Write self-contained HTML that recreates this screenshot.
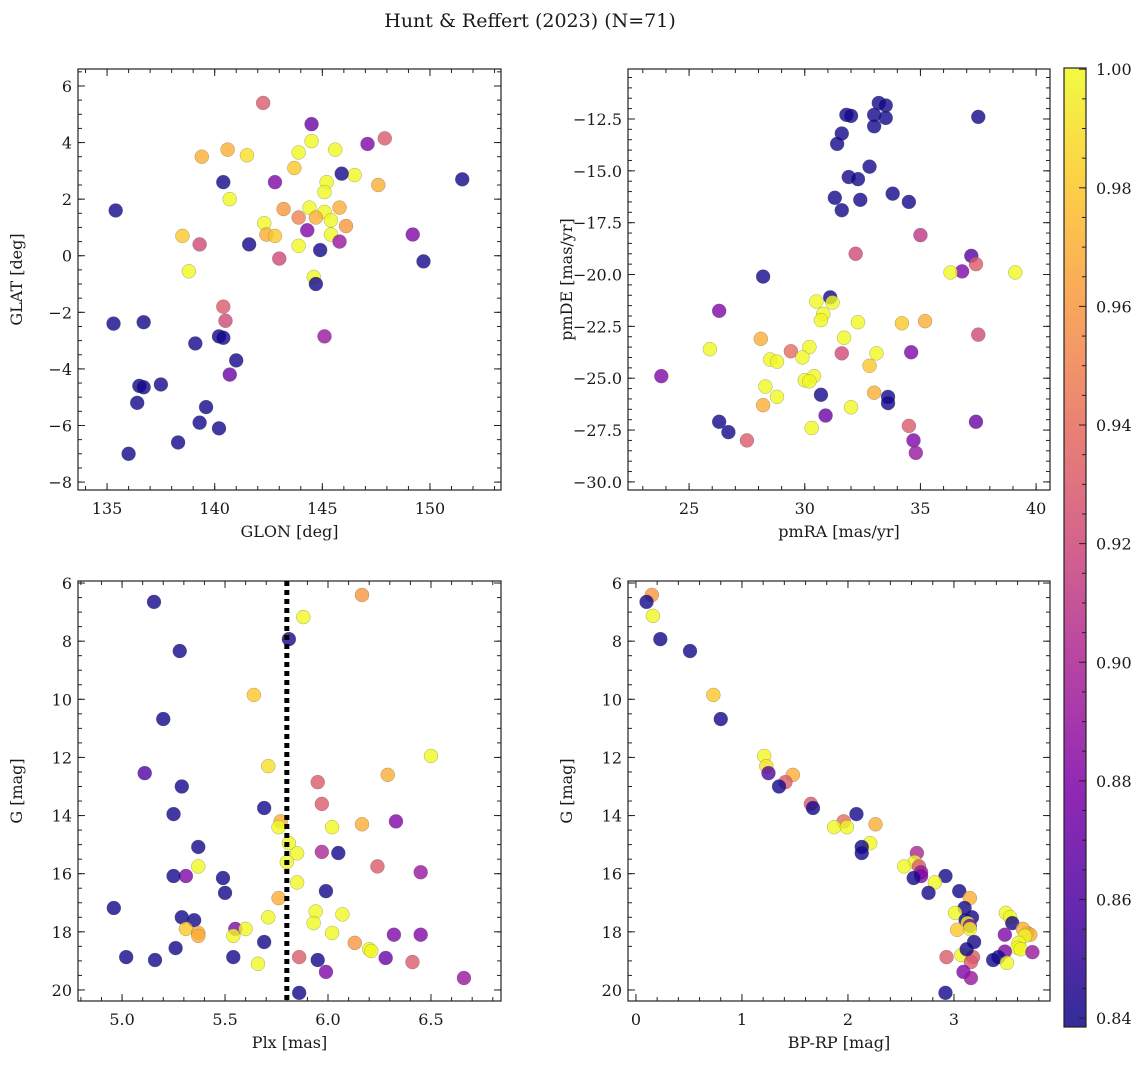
<!DOCTYPE html>
<html><head><meta charset="utf-8"><style>
html,body{margin:0;padding:0;background:#fff;}
svg text{font-family:"DejaVu Serif","Liberation Serif",serif;fill:#1a1a1a;}
</style></head><body>
<svg id="fig" width="1148" height="1068" viewBox="0 0 1148 1068" xmlns="http://www.w3.org/2000/svg">
<defs>
<linearGradient id="plasma" x1="0" y1="1" x2="0" y2="0">
<stop offset="0" stop-color="#0d0887"/><stop offset="0.125" stop-color="#4c02a1"/><stop offset="0.25" stop-color="#7e03a8"/><stop offset="0.375" stop-color="#a92395"/><stop offset="0.5" stop-color="#cc4778"/><stop offset="0.625" stop-color="#e56b5d"/><stop offset="0.75" stop-color="#f89540"/><stop offset="0.875" stop-color="#fdc527"/><stop offset="1" stop-color="#f0f921"/>
</linearGradient>
</defs>
<text x="530" y="27" font-size="19" text-anchor="middle">Hunt &amp; Reffert (2023) (N=71)</text>
</svg>
<script>
// Panel 1: GLON vs GLAT
const p1x=[142.25,144.5,147.9,147.1,144.5,139.4,140.6,141.5,143.9,145.6,146.5,145.9,143.7,142.8,140.4,145.2,145.1,147.6,151.5,140.7,135.4,143.2,144.4,145.8,145.1,143.9,144.7,145.4,142.3,146.1,142.4,142.8,145.4,144.3,138.5,141.6,143.9,139.3,145.8,144.9,149.2,143.0,149.7,138.8,144.6,144.7,140.4,140.5,135.3,136.7,145.1,140.2,140.4,139.1,141.0,140.7,136.5,137.5,136.7,136.4,139.6,139.3,140.2,138.3,136.0];
const p1y=[5.4,4.65,4.15,3.95,4.05,3.5,3.75,3.55,3.65,3.75,2.85,2.9,3.1,2.6,2.6,2.6,2.25,2.5,2.7,2.0,1.6,1.65,1.7,1.7,1.55,1.35,1.35,1.25,1.15,1.05,0.75,0.7,0.75,0.9,0.7,0.4,0.35,0.4,0.5,0.2,0.75,-0.1,-0.2,-0.55,-0.75,-1.0,-1.8,-2.3,-2.4,-2.35,-2.85,-2.85,-2.9,-3.1,-3.7,-4.2,-4.6,-4.55,-4.65,-5.2,-5.35,-5.9,-6.1,-6.6,-7.0];
const p1c=[0.93,0.87,0.93,0.88,1.0,0.97,0.97,0.99,1.0,1.0,1.0,0.84,0.98,0.88,0.84,1.0,1.0,0.97,0.84,1.0,0.84,0.96,1.0,0.97,1.0,0.95,0.97,1.0,1.0,0.96,0.97,0.98,1.0,0.88,0.98,0.84,1.0,0.92,0.89,0.84,0.88,0.92,0.84,1.0,1.0,0.84,0.93,0.92,0.84,0.84,0.89,0.84,0.84,0.84,0.84,0.87,0.84,0.84,0.84,0.84,0.84,0.84,0.84,0.84,0.84];
// Panel 2: pmRA vs pmDE
const p2x=[33.2,33.5,31.8,33.0,32.0,37.5,33.5,33.0,31.6,31.4,32.8,31.9,32.3,31.3,32.4,31.6,33.8,34.5,31.1,35.0,32.2,37.2,37.4,36.8,36.3,39.1,28.2,26.3,30.5,31.2,30.8,30.7,32.3,35.2,34.2,31.7,28.1,37.5,30.2,25.9,29.4,33.1,31.6,34.6,28.5,28.8,29.9,32.8,30.4,30.0,30.2,23.8,28.3,33.0,28.8,30.7,33.6,33.6,28.2,32.0,30.9,26.3,37.4,34.5,30.3,26.7,27.5,34.7,34.8];
const p2y=[-11.73,-11.85,-12.3,-12.3,-12.35,-12.4,-12.45,-12.85,-13.2,-13.7,-14.8,-15.3,-15.4,-16.3,-16.4,-16.9,-16.1,-16.5,-21.1,-18.1,-19.0,-19.1,-19.5,-19.85,-19.9,-19.9,-20.1,-21.75,-21.3,-21.35,-21.9,-22.2,-22.3,-22.25,-22.35,-23.05,-23.1,-22.9,-23.5,-23.6,-23.7,-23.8,-23.8,-23.75,-24.1,-24.2,-24.0,-24.4,-24.9,-25.1,-25.15,-24.9,-25.4,-25.7,-25.9,-25.8,-25.9,-26.2,-26.3,-26.4,-26.8,-27.1,-27.1,-27.3,-27.4,-27.6,-28.0,-28.0,-28.6];
const p2c=[0.84,0.84,0.84,0.84,0.84,0.84,0.84,0.84,0.84,0.84,0.84,0.84,0.84,0.84,0.84,0.84,0.84,0.84,0.84,0.91,0.92,0.86,0.93,0.88,1.0,1.0,0.84,0.88,1.0,1.0,1.0,1.0,1.0,0.97,0.98,1.0,0.97,0.92,1.0,1.0,0.94,1.0,0.92,0.88,1.0,1.0,1.0,0.98,1.0,1.0,1.0,0.88,1.0,0.97,1.0,0.84,0.84,0.84,0.97,1.0,0.87,0.84,0.87,0.93,1.0,0.84,0.93,0.88,0.89];
// Panel 3: Plx vs G
const p3x=[5.155,6.165,5.88,5.81,5.28,5.64,5.20,6.5,5.71,5.11,6.29,5.95,5.29,5.97,5.69,5.25,6.33,5.77,6.165,6.02,5.76,5.81,5.37,5.85,5.97,6.05,5.80,5.37,6.24,5.31,5.25,6.45,5.85,5.49,5.50,5.99,5.76,4.96,5.94,6.07,5.71,5.29,5.35,5.93,5.55,5.60,5.31,5.37,5.37,6.02,5.54,6.32,6.45,6.13,5.69,6.20,6.21,5.26,5.02,5.16,5.54,5.86,5.95,6.28,6.41,5.66,5.99,6.66,5.86];
const p3y=[6.65,6.41,7.17,7.93,8.34,9.85,10.68,11.95,12.3,12.54,12.6,12.85,13.0,13.6,13.74,13.95,14.2,14.2,14.3,14.4,14.4,14.95,15.08,15.3,15.25,15.29,15.6,15.75,15.75,16.08,16.08,15.95,16.3,16.15,16.66,16.6,16.84,17.18,17.3,17.4,17.5,17.5,17.6,17.7,17.9,17.9,17.9,18.04,18.14,18.04,18.14,18.1,18.1,18.38,18.35,18.6,18.66,18.56,18.87,18.97,18.87,18.87,18.97,18.9,19.04,19.1,19.38,19.59,20.1];
const p3c=[0.84,0.96,1.0,0.84,0.84,0.98,0.84,1.0,0.99,0.86,0.97,0.93,0.84,0.93,0.84,0.84,0.88,0.97,0.97,1.0,1.0,1.0,0.84,1.0,0.9,0.84,1.0,1.0,0.93,0.88,0.84,0.89,1.0,0.84,0.84,0.84,0.97,0.84,1.0,1.0,1.0,0.84,0.84,1.0,0.88,1.0,0.98,0.97,0.97,1.0,1.0,0.88,0.88,0.96,0.84,1.0,1.0,0.84,0.84,0.84,0.84,0.93,0.84,0.87,0.93,1.0,0.88,0.89,0.84];
// Panel 4: BP-RP vs G
const p4x=[0.15,0.10,0.16,0.23,0.51,0.73,0.80,1.21,1.23,1.25,1.48,1.41,1.35,1.65,1.67,2.08,1.96,2.26,1.87,1.99,2.21,2.13,2.13,2.65,2.63,2.53,2.67,2.69,2.69,2.62,2.92,2.82,2.76,3.05,3.15,3.10,3.01,3.49,3.53,3.17,3.11,3.55,3.13,3.15,3.15,3.03,3.69,3.72,3.65,3.67,3.48,3.61,3.19,3.60,3.63,3.48,3.07,3.74,3.42,3.37,2.93,3.18,3.16,3.50,3.09,3.16,2.92,3.12];
const p4y=[6.41,6.65,7.13,7.93,8.34,9.85,10.68,11.95,12.3,12.54,12.6,12.85,13.0,13.6,13.74,13.95,14.2,14.3,14.4,14.4,14.95,15.08,15.29,15.29,15.6,15.75,15.75,15.95,16.08,16.15,16.08,16.3,16.66,16.6,16.84,17.18,17.35,17.35,17.5,17.5,17.6,17.7,17.7,17.8,17.9,17.93,18.04,18.1,17.9,18.14,18.1,18.38,18.35,18.55,18.6,18.68,18.8,18.7,18.87,18.97,18.87,18.87,19.04,19.07,19.38,19.59,20.1,18.6];
const p4c=[0.96,0.84,1.0,0.84,0.84,0.98,0.84,1.0,0.99,0.86,0.97,0.93,0.84,0.93,0.84,0.84,0.94,0.97,1.0,1.0,1.0,0.84,0.84,0.9,1.0,1.0,0.93,0.89,0.88,0.84,0.84,1.0,0.84,0.84,0.97,0.84,1.0,1.0,1.0,0.84,0.84,0.84,1.0,0.88,1.0,0.98,0.96,0.97,0.97,1.0,0.88,1.0,0.84,1.0,1.0,0.88,1.0,0.89,0.84,0.84,0.93,0.93,0.93,1.0,0.88,0.89,0.84,0.84];
// Colorbar ticks
const cbTicks=[0.84,0.86,0.88,0.90,0.92,0.94,0.96,0.98,1.00];
const CMIN=0.8385, CMAX=1.0002;

const NS="http://www.w3.org/2000/svg";
const fig=document.getElementById('fig');
function mk(tag,attrs,parent){const e=document.createElementNS(NS,tag);for(const k in attrs)e.setAttribute(k,attrs[k]);(parent||fig).appendChild(e);return e;}
const stops=[[0,[13,8,135]],[0.125,[76,2,161]],[0.25,[126,3,168]],[0.375,[169,35,149]],[0.5,[204,71,120]],[0.625,[229,107,93]],[0.75,[248,149,64]],[0.875,[253,197,39]],[1,[240,249,33]]];
function plasma(v){let t=(v-CMIN)/(CMAX-CMIN);t=Math.max(0,Math.min(1,t));for(let i=1;i<stops.length;i++){if(t<=stops[i][0]){const a=stops[i-1],b=stops[i];const f=(t-a[0])/(b[0]-a[0]);const c=a[1].map((x,j)=>Math.round(x+(b[1][j]-x)*f));return `rgb(${c.join(',')})`;}}return 'rgb(240,249,33)';}

function panel(o){
  const {name,L,T,R,B,xmin,xmax,ymin,ymax,xt,yt,xminor,yminor,xlab,ylab,xs,ys,cs,invert,xfmt,yfmt}=o;
  const g=mk('g',{});
  
  
  const X=v=>L+(v-xmin)/(xmax-xmin)*(R-L);
  const Y=invert?(v=>T+(v-ymin)/(ymax-ymin)*(B-T)):(v=>B-(v-ymin)/(ymax-ymin)*(B-T));
  const pts=mk('g',{},g);
  
  
  for(let i=0;i<xs.length;i++){
    const c=mk('circle',{cx:X(xs[i]),cy:Y(ys[i]),r:7,fill:plasma(cs[i]),'fill-opacity':0.8,stroke:'#555','stroke-width':0.4,'stroke-opacity':0.6},pts);
    
    
  }
  const fr=mk('rect',{x:L,y:T,width:R-L,height:B-T,fill:'none',stroke:'#222','stroke-width':1.2},g);
  
  
  const tk=mk('g',{stroke:'#222','stroke-width':1},g);
  
  
  const eps=1e-9;
  for(let v=Math.ceil(xmin/xminor)*xminor;v<=xmax+eps;v+=xminor){const x=X(v);mk('line',{x1:x,x2:x,y1:B,y2:B-4},tk);mk('line',{x1:x,x2:x,y1:T,y2:T+4},tk);}
  for(let v=Math.ceil(ymin/yminor)*yminor;v<=ymax+eps;v+=yminor){const y=Y(v);mk('line',{x1:L,x2:L+4,y1:y,y2:y},tk);mk('line',{x1:R,x2:R-4,y1:y,y2:y},tk);}
  xt.forEach(v=>{const x=X(v);mk('line',{x1:x,x2:x,y1:B,y2:B-7},tk);mk('line',{x1:x,x2:x,y1:T,y2:T+7},tk);
    const t=mk('text',{x:x,y:B+24,'font-size':16,'text-anchor':'middle'},g);t.textContent=xfmt(v);
    });
  yt.forEach(v=>{const y=Y(v);mk('line',{x1:L,x2:L+7,y1:y,y2:y},tk);mk('line',{x1:R,x2:R-7,y1:y,y2:y},tk);
    const t=mk('text',{x:L-6,y:y+6,'font-size':16,'text-anchor':'end'},g);t.textContent=yfmt(v);
    });
  const xl=mk('text',{x:(L+R)/2,y:B+47,'font-size':16,'text-anchor':'middle'},g);xl.textContent=xlab;
  
  const yx=L-56, yy=(T+B)/2;
  const yl=mk('text',{x:yx,y:yy,'font-size':16,'text-anchor':'middle',transform:`rotate(-90 ${yx} ${yy})`},g);yl.textContent=ylab;
  
  return {X,Y,g};
}
const neg=v=>(v<0?'\u2212':'')+Math.abs(v);
panel({name:'glon-glat-panel',L:78,T:69,R:501,B:490,xmin:133.65,xmax:153.3,ymin:-8.28,ymax:6.6,xt:[135,140,145,150],yt:[-8,-6,-4,-2,0,2,4,6],xminor:1,yminor:0.5,xlab:'GLON [deg]',ylab:'GLAT [deg]',xs:p1x,ys:p1y,cs:p1c,xfmt:v=>String(v),yfmt:neg});
panel({name:'proper-motion-panel',L:628,T:69,R:1050,B:490,xmin:22.36,xmax:40.6,ymin:-30.39,ymax:-10.09,xt:[25,30,35,40],yt:[-30,-27.5,-25,-22.5,-20,-17.5,-15,-12.5],xminor:1,yminor:0.5,xlab:'pmRA [mas/yr]',ylab:'pmDE [mas/yr]',xs:p2x,ys:p2y,cs:p2c,xfmt:v=>String(v),yfmt:v=>'\u2212'+Math.abs(v).toFixed(1)});
const p3=panel({name:'parallax-mag-panel',L:78,T:581,R:501,B:1001,xmin:4.786,xmax:6.84,ymin:5.93,ymax:20.38,xt:[5.0,5.5,6.0,6.5],yt:[6,8,10,12,14,16,18,20],xminor:0.1,yminor:0.5,xlab:'Plx [mas]',ylab:'G [mag]',xs:p3x,ys:p3y,cs:p3c,invert:true,xfmt:v=>v.toFixed(1),yfmt:v=>String(v)});
const vl=mk('line',{x1:p3.X(5.8),x2:p3.X(5.8),y1:581,y2:1001,stroke:'#000','stroke-width':5,'stroke-dasharray':'5,4'},p3.g);


panel({name:'cmd-panel',L:628,T:581,R:1050,B:1001,xmin:-0.075,xmax:3.906,ymin:5.93,ymax:20.38,xt:[0,1,2,3],yt:[6,8,10,12,14,16,18,20],xminor:0.2,yminor:0.5,xlab:'BP-RP [mag]',ylab:'G [mag]',xs:p4x,ys:p4y,cs:p4c,invert:true,xfmt:v=>String(v),yfmt:v=>String(v)});

// Colorbar
const cb=mk('g',{});


const CL=1064,CR=1086,CT=68,CB=1027;
mk('rect',{x:CL,y:CT,width:CR-CL,height:CB-CT,fill:'url(#plasma)','fill-opacity':0.85},cb);
mk('rect',{x:CL,y:CT,width:CR-CL,height:CB-CT,fill:'none',stroke:'#222','stroke-width':1.2},cb);
const CY=v=>CB-(v-CMIN)/(CMAX-CMIN)*(CB-CT);
for(let v=0.845;v<1.0;v+=0.005){if(Math.abs(Math.round(v*50)-v*50)<1e-6)continue;mk('line',{x1:CR,x2:CR-4,y1:CY(v),y2:CY(v),stroke:'#222'},cb);}
cbTicks.forEach(v=>{const y=CY(v);mk('line',{x1:CR,x2:CR-7,y1:y,y2:y,stroke:'#222'},cb);
  const t=mk('text',{x:CR+10,y:y+6,'font-size':16},cb);t.textContent=v.toFixed(2);
  });
</script>
</body></html>
